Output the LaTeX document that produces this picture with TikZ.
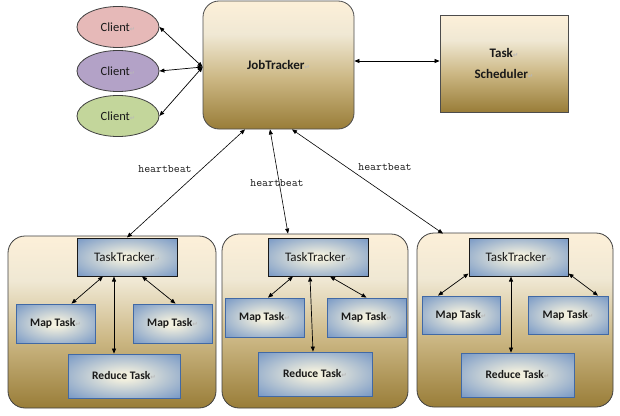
\documentclass[tikz,border=0pt]{standalone}
\usepackage{fontspec}
\setmainfont{Carlito}
\newfontfamily\retfont{DejaVu Sans}
\usetikzlibrary{arrows.meta,shapes.geometric,calc}
\definecolor{retgray}{RGB}{185,185,185}
\definecolor{pinkc}{RGB}{230,185,184}
\definecolor{purplec}{RGB}{179,162,199}
\definecolor{greenc}{RGB}{195,214,155}
\definecolor{bluedge}{RGB}{65,105,165}
\definecolor{txt}{RGB}{25,25,25}
\pgfdeclareverticalshading{tanshade}{100bp}{rgb(0bp)=(0.60,0.49,0.22); rgb(25bp)=(0.60,0.49,0.22); rgb(45bp)=(0.80,0.72,0.52); rgb(62bp)=(0.94,0.91,0.83); rgb(75bp)=(0.99,0.94,0.85); rgb(100bp)=(0.99,0.94,0.85)}
\pgfdeclareradialshading{blueshade}{\pgfpoint{0bp}{0bp}}{rgb(0bp)=(0.95,0.94,0.87); rgb(4bp)=(0.95,0.94,0.87); rgb(47bp)=(0.29,0.47,0.74); rgb(72bp)=(0.29,0.47,0.74)}
\newcommand\ret{{\retfont\fontsize{6.5}{6.5}\selectfont\color{retgray}↵}}
\tikzset{
  tanbox/.style={draw=black!70, line width=0.8pt, shade, shading=tanshade, inner sep=0pt, text=txt, align=center, font=\bfseries\fontsize{13}{21}\selectfont},
  container/.style={draw=black!75, line width=0.8pt, rounded corners=17pt, shade, shading=tanshade, inner sep=0pt},
  client/.style={ellipse, draw=black!75, line width=0.8pt, minimum width=82pt, minimum height=41pt, inner sep=0pt, text=txt, font=\fontsize{12.5}{14}\selectfont},
  taskbox/.style={draw=bluedge, line width=0.8pt, shade, shading=blueshade, inner sep=0pt, text=txt, font=\bfseries\fontsize{11.5}{13}\selectfont},
  ttbox/.style={draw=black!90, line width=1pt, shade, shading=blueshade, inner sep=0pt, text=txt, minimum width=100pt, minimum height=38pt, font=\fontsize{13}{15}\selectfont},
  arr/.style={<->, >={Triangle[length=5pt,width=4pt]}, line width=0.7pt, black},
  hb/.style={font=\ttfamily\fontsize{11.5}{12}\selectfont, text=txt, inner sep=1pt}
}
\begin{document}
\begin{tikzpicture}[x=1pt,y=1pt]
\useasboundingbox (0,0) rectangle (620,-415);
\fill[white] (0,0) rectangle (620,-415);
% top row
\node[tanbox, rounded corners=16pt, minimum width=151pt, minimum height=128pt] (JT) at (278.5,-65) {JobTracker\ret};
\node[tanbox, minimum width=128pt, minimum height=97pt] (TS) at (504,-63.5) {Task\ret\\Scheduler\ret};
\node[client, fill=pinkc] (C1) at (118,-27) {Client\ret};
\node[client, fill=purplec] (C2) at (118,-71) {Client\ret};
\node[client, fill=greenc] (C3) at (118,-116) {Client\ret};
% containers
\node[container, minimum width=208pt, minimum height=172pt] (K1) at (112,-322) {};
\node[container, minimum width=186pt, minimum height=174pt] (K2) at (315,-321) {};
\node[container, minimum width=196pt, minimum height=174pt] (K3) at (515,-320) {};
% left group
\node[ttbox] (TT1) at (127,-257) {TaskTracker\ret};
\node[taskbox, minimum width=79pt, minimum height=39pt] (ML1) at (55.5,-323.5) {Map Task\ret};
\node[taskbox, minimum width=79pt, minimum height=39pt] (MR1) at (172.5,-323.5) {Map Task\ret};
\node[taskbox, minimum width=112pt, minimum height=44pt] (R1) at (124,-376) {Reduce Task\ret};
% middle group
\node[ttbox] (TT2) at (318,-257) {TaskTracker\ret};
\node[taskbox, minimum width=79pt, minimum height=39pt] (ML2) at (264.5,-317.5) {Map Task\ret};
\node[taskbox, minimum width=79pt, minimum height=39pt] (MR2) at (366.5,-317.5) {Map Task\ret};
\node[taskbox, minimum width=114pt, minimum height=44pt] (R2) at (315,-374) {Reduce Task\ret};
% right group
\node[ttbox, minimum width=99pt] (TT3) at (518.5,-257) {TaskTracker\ret};
\node[taskbox, minimum width=78pt, minimum height=38pt] (ML3) at (461,-315) {Map Task\ret};
\node[taskbox, minimum width=80pt, minimum height=38pt] (MR3) at (568,-315) {Map Task\ret};
\node[taskbox, minimum width=113pt, minimum height=44pt] (R3) at (517.5,-375) {Reduce Task\ret};
% connectors top
\coordinate (jl) at ([yshift=-2pt]JT.west);
\draw[arr] (jl) -- (C1.east);
\draw[arr] (jl) -- (C2.east);
\draw[arr] (jl) -- (C3.east);
\draw[arr] ([yshift=4pt]JT.east) -- ([yshift=2.5pt]TS.west);
% heartbeat
\draw[arr, line width=0.6pt] ([xshift=-33.5pt]JT.south) -- (TT1.north);
\draw[arr, line width=0.6pt] ([xshift=-8.5pt]JT.south) -- ([xshift=-27pt]K2.north);
\draw[arr, line width=0.6pt] ([xshift=13.5pt]JT.south) -- ([xshift=-72pt,yshift=-1pt]K3.north);
\node[hb] (hb1) at (165,-169) {heartbeat};
\node[hb] (hb2) at (277,-183) {heartbeat};
\node[hb] (hb3) at (385,-167) {heartbeat};
% inner connectors
\draw[arr] ([xshift=-24pt]TT1.south) -- ([xshift=16pt]ML1.north);
\draw[arr] ([xshift=-13pt]TT1.south) -- ([xshift=-10pt]R1.north);
\draw[arr] ([xshift=15pt]TT1.south) -- ([xshift=3pt]MR1.north);
\draw[arr] ([xshift=-25pt]TT2.south) -- ([xshift=3.5pt]ML2.north);
\draw[arr] ([xshift=-8pt]TT2.south) -- ([xshift=-2pt]R2.north);
\draw[arr] ([xshift=12pt]TT2.south) -- (MR2.north);
\draw[arr] ([yshift=3pt]TT3.south west) -- ([xshift=-23pt]ML3.north);
\draw[arr] ([xshift=-7.5pt]TT3.south) -- ([xshift=-6.5pt]R3.north);
\draw[arr] ([yshift=3pt]TT3.south east) -- ([xshift=30pt]MR3.north);
\end{tikzpicture}
\end{document}
